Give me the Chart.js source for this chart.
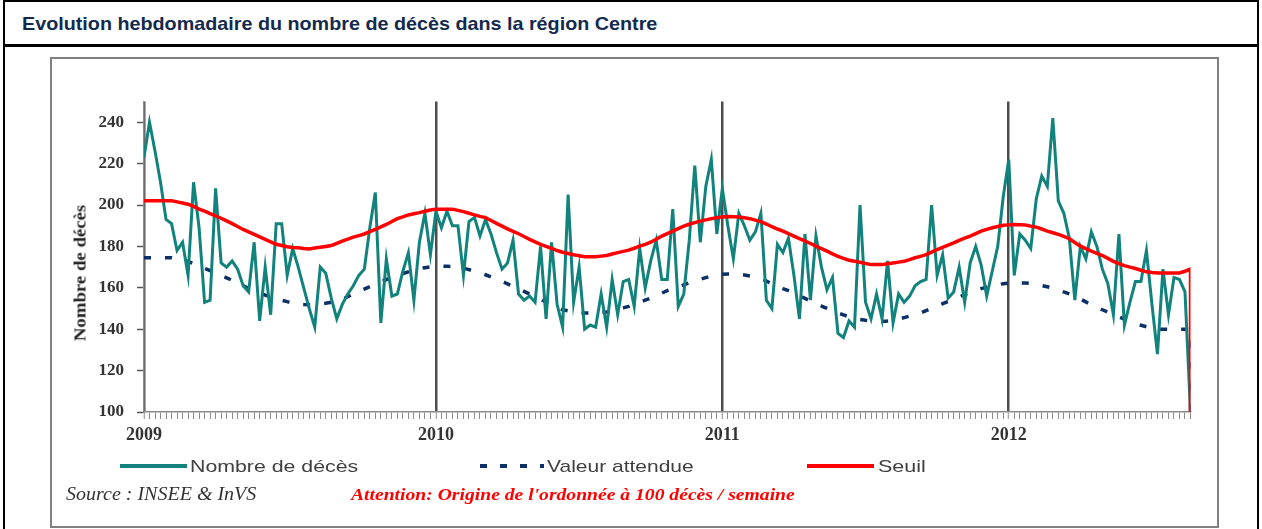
<!DOCTYPE html>
<html lang="fr">
<head>
<meta charset="utf-8">
<title>Evolution hebdomadaire du nombre de décès dans la région Centre</title>
<script src="https://cdn.jsdelivr.net/npm/chart.js@4.4.1/dist/chart.umd.min.js"></script>
<style>
    html, body { margin: 0; padding: 0; background: #fff; }
    #page { position: relative; width: 1262px; height: 529px; overflow: hidden; font-family: "Liberation Sans", Arial, sans-serif; }
    #cadre { position: absolute; left: 3px; top: 0; width: 1256px; height: 560px; border: 2px solid #000; box-sizing: border-box; }
    #filet { position: absolute; left: 3px; top: 44px; width: 1256px; height: 3px; background: #000; }
    #boite { position: absolute; left: 50px; top: 57px; width: 1169px; height: 471px; border: 2px solid #808080; box-sizing: border-box; }
    #graphe { position: absolute; left: 0; top: 0; }
    .txt { position: absolute; white-space: nowrap; transform-origin: 0 0; line-height: 1; }
    #titre { left: 22px; top: 14px; font-size: 19px; font-weight: bold; color: #132a4d; }
    .leg { font-size: 17px; color: #404040; top: 458px; }
    .trait { position: absolute; top: 464px; height: 4px; }
    #axeY { position: absolute; left: 80px; top: 273px; white-space: nowrap; line-height: 1;
            font-family: "Liberation Serif", "Times New Roman", serif; font-weight: bold; font-size: 17px; color: #222; }
    #source { left: 66px; top: 485px; font-family: "Liberation Serif", "Times New Roman", serif; font-style: italic; font-size: 18px; color: #333; }
    #attention { left: 351px; top: 487px; font-family: "Liberation Serif", "Times New Roman", serif; font-style: italic; font-weight: bold; font-size: 16px; color: #ff0000; }
</style>
</head>
<body>
<div id="page">
    <div id="cadre"></div>
    <div id="filet"></div>
    <div id="titre" class="txt">Evolution hebdomadaire du nombre de décès dans la région Centre</div>
    <div id="boite"></div>
    <canvas id="graphe" width="1262" height="529"></canvas>
    <div id="axeY">Nombre de décès</div>
    <div class="trait" style="left:120px; width:67px; background:#12827d;"></div>
    <div id="leg1" class="txt leg" style="left:190px;">Nombre de décès</div>
    <div class="trait" style="left:480px; width:64px; background:repeating-linear-gradient(to right, #0b2f66 0 7px, transparent 7px 20px);"></div>
    <div id="leg2" class="txt leg" style="left:547px;">Valeur attendue</div>
    <div class="trait" style="left:807px; width:67px; background:#ff0000;"></div>
    <div id="leg3" class="txt leg" style="left:878px;">Seuil</div>
    <div id="source" class="txt">Source : INSEE &amp; InVS</div>
    <div id="attention" class="txt">Attention: Origine de l'ordonnée à 100 décès / semaine</div>
</div>
<script>
// semaines 2009 (53) + 2010 (52) + 2011 (52) + 2012 (34)
const annees = ['2009', '2010', '2011', '2012'];
const debutAnnee = [0, 53, 105, 157];

const deces = [
    223, 240, 226, 211, 193, 191, 178, 182, 166, 211,
    189, 153, 154, 208, 172, 170, 173, 169, 161, 158,
    182, 144, 170, 147, 191, 191, 166, 179, 170, 160,
    150, 141, 170, 167, 155, 145, 152, 157, 161, 166,
    169, 189, 206, 143, 174, 156, 157, 168, 177, 154,
    182, 196, 176, 197, 189, 197, 190, 190, 166, 192,
    194, 185, 193, 186, 177, 169, 172, 183, 157, 154,
    156, 153, 180, 145, 182, 152, 141, 205, 153, 170,
    140, 142, 141, 157, 141, 164, 147, 163, 164, 151,
    179, 160, 173, 183, 164, 164, 198, 151, 157, 183,
    219, 182, 209, 222, 186, 208, 190, 174, 196, 190,
    183, 187, 196, 154, 150, 181, 177, 184, 166, 145,
    186, 154, 185, 170, 159, 165, 138, 136, 144, 141,
    200, 153, 145, 157, 145, 173, 143, 157, 153, 156,
    161, 163, 164, 200, 166, 176, 155, 158, 170, 153,
    172, 180, 171, 156, 168, 180, 204, 222, 166, 186,
    183, 179, 203, 214, 209, 242, 202, 196, 184, 154,
    180, 174, 187, 180, 169, 162, 147, 186, 142, 153,
    163, 163, 178, 152, 128, 169, 147, 165, 164, 158,
    100
];

const attendu = [
    174.5, 174.5, 174.5, 174.5, 174.5, 174.5, 174, 173.4, 172.8, 171.7,
    170.6, 169.4, 168.3, 167.1, 166, 164.8, 163.6, 162.3, 161, 159.6,
    158.3, 157.4, 156.5, 155.6, 154.7, 154, 153.3, 152.7, 152.1, 151.9,
    151.8, 151.9, 152.1, 152.5, 153, 153.6, 154.5, 155.7, 157, 158.2,
    159.4, 160.6, 161.8, 162.9, 164, 165, 166, 166.9, 167.7, 168.5,
    169.3, 169.7, 170.1, 170.4, 170.4, 170.4, 170.3, 170, 169.5, 168.8,
    168, 167.2, 166.3, 165.2, 164.2, 163.1, 161.9, 160.7, 159.5, 158.3,
    157, 155.7, 154.4, 153.1, 151.8, 150.6, 149.4, 148.9, 148.5, 148.1,
    147.8, 147.8, 147.9, 148.1, 148.3, 148.9, 149.6, 150.3, 151, 152,
    153, 154, 155, 156.2, 157.4, 158.6, 159.6, 160.5, 161.4, 162.4,
    163.3, 164.1, 164.9, 165.7, 166.2, 166.5, 166.7, 166.7, 166.5, 166.2,
    165.7, 165.2, 164.4, 163.3, 161.8, 160.7, 159.6, 158.6, 157.5, 156.2,
    154.9, 153.6, 152.3, 151.2, 150.1, 148.9, 147.8, 146.9, 146, 145.2,
    144.7, 144.3, 144, 143.7, 143.7, 144, 144.4, 144.9, 145.6, 146.3,
    147.1, 147.8, 149, 150.1, 151.2, 152.3, 153.4, 154.5, 155.6, 156.7,
    157.7, 158.6, 159.6, 160.3, 160.9, 161.5, 162, 162.2, 162.3, 162.3,
    162.3, 162.1, 161.6, 161.1, 160.5, 159.8, 159, 158, 157.1, 155.9,
    154.6, 153.2, 151.8, 150.6, 149.4, 148.2, 147, 146, 144.9, 143.7,
    142.6, 141.9, 141.2, 140.6, 140, 140, 140, 140, 140, 140,
    140
];

const seuil = [
    202, 202, 202, 202, 202, 202, 201.5, 201, 200.4, 199.3,
    198, 197, 195.8, 194.7, 193.6, 192.3, 191, 189.6, 188.2, 187,
    185.8, 184.6, 183.4, 182.2, 181, 180.4, 179.8, 179.5, 179.3, 179,
    178.8, 179.2, 179.6, 180, 180.4, 181.5, 182.6, 183.5, 184.5, 185.2,
    186, 187.1, 188.2, 189.4, 190.6, 192, 193.4, 194.3, 195.2, 195.8,
    196.3, 197, 197.6, 198, 198, 198, 198, 197.4, 196.8, 196,
    195.2, 194.5, 193.9, 192.5, 191.1, 189.8, 188.5, 187.3, 186.1, 184.8,
    183.4, 182.2, 181, 180, 179, 178, 177.2, 176.6, 176, 175.5,
    175, 175, 175, 175.3, 175.6, 176.3, 177, 177.6, 178.2, 179.1,
    180.1, 181, 182, 183.5, 185, 186.2, 187.4, 188.6, 189.8, 190.7,
    191.5, 192.2, 192.8, 193.4, 193.9, 194.2, 194.4, 194.3, 194.2, 193.8,
    193.4, 192.7, 192, 190.8, 189.5, 188.4, 187.4, 186.2, 185, 183.8,
    182.6, 181.4, 180.1, 178.9, 177.7, 176.4, 175.2, 174.2, 173.3, 172.8,
    172.3, 171.7, 171.2, 171.2, 171.2, 171.6, 172, 172.4, 172.8, 173.6,
    174.5, 175.2, 176, 177.2, 178.5, 179.5, 180.6, 181.7, 182.9, 184,
    185, 186.2, 187.4, 188.2, 189, 189.6, 190.2, 190.4, 190.6, 190.5,
    190.3, 189.8, 189.3, 188.4, 187.4, 186.6, 185.8, 184.8, 183.7, 181.9,
    180.1, 178.9, 177.7, 176.6, 175.6, 174.2, 172.8, 171.7, 170.7, 170,
    169.3, 168.5, 167.7, 167.4, 167.2, 167.2, 167.2, 167.2, 167.2, 168,
    169
];

// les deux courbes lissées tombent à l'origine sur la dernière semaine
const chuteFinale = 100;

const serif = '"Liberation Serif", "Times New Roman", serif';
const derniere = deces.length - 1;

function points(valeurs) {
    return valeurs.map((v, i) => ({ x: i, y: v }));
}

new Chart(document.getElementById('graphe'), {
    type: 'line',
    data: {
        datasets: [
            {
                label: 'Seuil',
                data: [...points(seuil), { x: derniere, y: chuteFinale }],
                borderColor: '#ff0000',
                borderWidth: 3.5,
                pointRadius: 0,
                order: 0
            },
            {
                label: 'Nombre de décès',
                data: points(deces),
                borderColor: '#12827d',
                borderWidth: 3,
                pointRadius: 0,
                order: 1
            },
            {
                label: 'Valeur attendue',
                data: [...points(attendu), { x: derniere, y: chuteFinale }],
                borderColor: '#0b2f66',
                borderWidth: 3.5,
                borderDash: [7, 14],
                pointRadius: 0,
                order: 2
            }
        ]
    },
    options: {
        responsive: false,
        animation: false,
        events: [],
        layout: { padding: { top: 101.5, right: 71.5, bottom: 77, left: 0 } },
        plugins: {
            legend: { display: false },
            tooltip: { enabled: false }
        },
        scales: {
            x: {
                type: 'linear',
                min: 0,
                max: derniere,
                afterFit: (s) => { s.height = 40; },
                ticks: {
                    stepSize: 1,
                    autoSkip: false,
                    maxRotation: 0,
                    padding: 6,
                    color: '#333',
                    font: { family: serif, size: 18, weight: 'bold' },
                    callback: (v) => {
                        const k = debutAnnee.indexOf(v);
                        return k >= 0 ? annees[k] : '';
                    }
                },
                grid: {
                    color: (ctx) => debutAnnee.includes(ctx.tick && ctx.tick.value) ? '#4d4d4d' : 'rgba(0,0,0,0)',
                    lineWidth: (ctx) => debutAnnee.includes(ctx.tick && ctx.tick.value) ? 2.5 : 1,
                    tickColor: '#8c8c8c',
                    tickWidth: 1,
                    tickLength: 7
                },
                border: { color: '#8c8c8c', width: 1.5 }
            },
            y: {
                min: 100,
                max: 250,
                afterFit: (s) => { s.width = 144; },
                ticks: {
                    stepSize: 20,
                    includeBounds: false,
                    padding: 13,
                    color: '#333',
                    font: { family: serif, size: 17, weight: 'bold' }
                },
                grid: {
                    drawOnChartArea: false,
                    tickColor: '#555',
                    tickWidth: 1.5,
                    tickLength: 7
                },
                border: { color: '#8c8c8c', width: 1.5 }
            }
        }
    }
});

// les textes du modèle sont étirés en largeur : on les ajuste
function ajusterLargeur(id, largeur, rotation) {
    const el = document.getElementById(id);
    const k = largeur / el.offsetWidth;
    if (rotation) {
        el.style.transform = `translate(-50%, -50%) rotate(-90deg) scaleX(${k})`;
    } else {
        el.style.transform = `scaleX(${k})`;
    }
}

ajusterLargeur('titre', 635);
ajusterLargeur('leg1', 168);
ajusterLargeur('leg2', 147);
ajusterLargeur('leg3', 48);
ajusterLargeur('source', 190);
ajusterLargeur('attention', 444);
ajusterLargeur('axeY', 136, true);
</script>
</body>
</html>
